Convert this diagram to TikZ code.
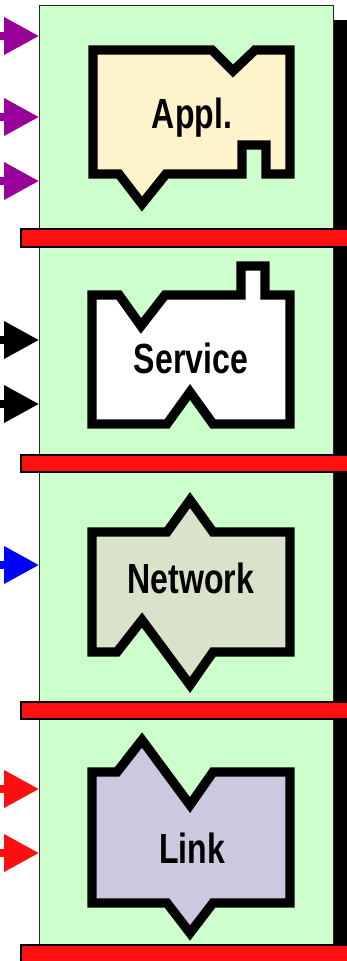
\documentclass[tikz,border=0pt]{standalone}
\usepackage{fontspec}
\newfontfamily\layerfont[FakeStretch=0.76]{Liberation Sans}
\usetikzlibrary{arrows.meta, positioning}
\usepackage{xcolor}

\definecolor{layergreen}{HTML}{CCFFCC}
\definecolor{barred}{HTML}{FF0F0F}
\definecolor{applfill}{HTML}{FFF3CC}
\definecolor{netfill}{HTML}{D9E3CB}
\definecolor{linkfill}{HTML}{CBC8E0}
\definecolor{applarrow}{HTML}{990099}
\definecolor{netarrow}{HTML}{0000FF}

\begin{document}
\begin{tikzpicture}[
    x=0.02cm,
    y=-0.02cm,
    every node/.style={font=\layerfont\bfseries\fontsize{24}{28}\selectfont},
    layer/.style={
        draw=black!85,
        line width=0.7pt,
        fill=layergreen,
        anchor=north west,
        minimum width=5.88cm,
        inner sep=0pt
    },
    bar/.style={
        draw=black,
        line width=0.8pt,
        fill=barred
    },
    part/.style={
        draw=black,
        line width=5.3pt,
        line join=miter
    },
    label/.style={
        anchor=base,
        inner sep=0pt
    },
    inarrow/.style={
        draw=#1,
        line width=4pt,
        -{Triangle[length=0.7cm, width=0.72cm]}
    }
]

\useasboundingbox (0,0) rectangle (347,961);

% ============================================================
% SCHATTEN
% ============================================================

\fill[black] (333,20) rectangle (347,961);

% ============================================================
% SCHICHTEN
% ============================================================

\node[layer, minimum height=4.48cm] (applbox) at (39,5) {};
\node[layer, minimum height=4.16cm] (servbox) at (39,247) {};
\node[layer, minimum height=4.60cm] (netbox) at (39,472) {};
\node[layer, minimum height=4.52cm] (linkbox) at (39,719) {};

% Trennbalken
\draw[bar] (21,229) rectangle (360,247);
\draw[bar] (21,455) rectangle (360,472);
\draw[bar] (21,702) rectangle (360,719);
\draw[bar] (21,945) rectangle (360,975);

% ============================================================
% BAUSTEINE
% ============================================================

% Appl.
\draw[part, fill=applfill]
(93,50) -- (212,50) -- (233,71) -- (255,50) -- (290,50) --
(290,174) -- (266,174) -- (266,145) -- (242,145) -- (242,174) --
(166,174) -- (142,204) -- (119,174) -- (93,174) -- cycle;

\node[label] (appl) at (192,128) {Appl.};

% Service
\draw[part, fill=white]
(92,295) -- (119,295) -- (141,326) -- (165,295) -- (241,295) --
(241,266) -- (265,266) -- (265,295) -- (290,295) --
(290,424) -- (213,424) -- (190,392) -- (167,424) -- (92,424) -- cycle;

\node[label] (serv) at (191,373) {Service};

% Network
\draw[part, fill=netfill]
(92,532) -- (167,532) -- (190,500) -- (213,532) -- (290,532) --
(290,652) -- (213,652) -- (190,685) -- (142,620) -- (117,652) --
(92,652) -- cycle;

\node[label] (net) at (191,593) {Network};

% Link
\draw[part, fill=linkfill]
(92,772) -- (117,772) -- (142,740) -- (190,805) -- (213,772) --
(290,772) -- (290,903) -- (213,903) -- (190,933) -- (167,903) --
(92,903) -- cycle;

\node[label] (link) at (192,863) {Link};

% ============================================================
% EINGAENGE
% ============================================================

\coordinate (in1) at (0,36);
\coordinate (in2) at (0,117);
\coordinate (in3) at (0,181);
\coordinate (in4) at (0,340);
\coordinate (in5) at (0,404);
\coordinate (in6) at (0,565);
\coordinate (in7) at (0,789);
\coordinate (in8) at (0,853);

\draw[inarrow=applarrow] (in1) -- (applbox.west |- in1);
\draw[inarrow=applarrow] (in2) -- (applbox.west |- in2);
\draw[inarrow=applarrow] (in3) -- (applbox.west |- in3);
\draw[inarrow=black] (in4) -- (servbox.west |- in4);
\draw[inarrow=black] (in5) -- (servbox.west |- in5);
\draw[inarrow=netarrow] (in6) -- (netbox.west |- in6);
\draw[inarrow=barred] (in7) -- (linkbox.west |- in7);
\draw[inarrow=barred] (in8) -- (linkbox.west |- in8);

\end{tikzpicture}
\end{document}
